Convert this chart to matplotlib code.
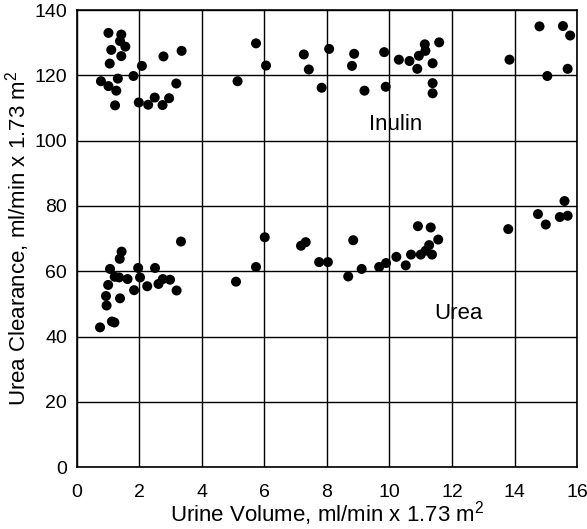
import matplotlib
matplotlib.use("Agg")
import matplotlib.pyplot as plt

plt.rcParams['font.family'] = ['Liberation Sans', 'DejaVu Sans']
plt.rcParams['mathtext.fontset'] = 'custom'
plt.rcParams['mathtext.rm'] = 'Liberation Sans'
plt.rcParams['mathtext.it'] = 'Liberation Sans'

# Inulin clearance measurements
inulin_x = [1.01, 1.42, 1.38, 1.55, 1.10, 1.42, 1.05, 2.77, 3.35, 2.08, 1.81, 1.31,
            0.77, 1.01, 1.26, 1.22, 1.98, 2.28, 2.49, 2.74, 2.95, 3.18, 5.14,
            5.73, 6.05, 7.26, 7.42, 8.07, 7.83, 8.87, 8.80, 9.20, 9.83, 9.88,
            10.30, 10.64, 10.89, 10.94, 11.13, 11.15, 11.38, 11.59, 11.38, 11.38,
            13.84, 14.80, 15.55, 15.78, 15.05, 15.70]
inulin_y = [133.0, 132.5, 130.5, 128.8, 127.8, 125.9, 123.6, 125.8, 127.5, 122.9, 119.8, 119.0,
            118.2, 116.7, 115.3, 110.8, 111.7, 111.0, 113.2, 110.9, 113.0, 117.5, 118.2,
            129.8, 123.0, 126.4, 121.8, 128.1, 116.2, 126.6, 122.9, 115.3, 127.1, 116.5,
            124.8, 124.4, 122.0, 126.0, 129.5, 127.5, 123.7, 130.1, 117.6, 114.5,
            124.8, 135.0, 135.1, 132.2, 119.8, 122.0]

# Urea clearance measurements
urea_x = [1.43, 1.37, 1.06, 1.96, 2.50, 3.33, 1.21, 1.35, 1.62, 2.02, 1.00, 1.83,
          2.25, 2.61, 2.75, 2.98, 3.19, 0.93, 0.95, 1.38, 1.12, 1.20, 0.74,
          5.09, 5.73, 6.01, 7.17, 7.32, 7.75, 8.03, 8.68, 8.84, 9.11, 9.67, 9.89,
          10.22, 10.52, 10.69, 10.91, 11.00, 11.16, 11.27, 11.36, 11.32, 11.56,
          13.80, 14.75, 15.00, 15.45, 15.70, 15.60]
urea_y = [66.0, 63.8, 60.7, 61.0, 61.0, 69.1, 58.3, 58.1, 57.6, 58.1, 55.8, 54.2,
          55.4, 56.1, 57.6, 57.4, 54.1, 52.4, 49.5, 51.7, 44.6, 44.3, 42.8,
          56.8, 61.3, 70.4, 67.8, 68.9, 62.8, 62.8, 58.4, 69.5, 60.7, 61.3, 62.5,
          64.4, 61.8, 65.1, 73.8, 65.1, 66.3, 68.0, 65.1, 73.4, 69.7,
          72.9, 77.5, 74.3, 76.6, 77.0, 81.5]

x_ticks = [0, 2, 4, 6, 8, 10, 12, 14, 16]
y_ticks = [0, 20, 40, 60, 80, 100, 120, 140]

fig = plt.figure(figsize=(5.87, 5.29), dpi=100)
ax = fig.add_axes([0.131, 0.117, 0.852, 0.864])

ax.scatter(inulin_x, inulin_y, s=52, color='black', edgecolors='none', zorder=3)
ax.scatter(urea_x, urea_y, s=52, color='black', edgecolors='none', zorder=3)

ax.set_xlim(0, 16)
ax.set_ylim(0, 140)
ax.set_xticks(x_ticks)
ax.set_yticks(y_ticks)
ax.grid(True, color='black', linewidth=1.0)
ax.set_axisbelow(True)
for sp in ax.spines.values():
    sp.set_color('black')
    sp.set_linewidth(1.2)
ax.tick_params(axis='both', length=0, labelsize=14, colors='black')
ax.tick_params(axis='x', pad=12)
ax.tick_params(axis='y', pad=7)

ax.text(10.2, 105.0, 'Inulin', fontsize=16, ha='center', va='center')
ax.text(12.2, 47.2, 'Urea', fontsize=16, ha='center', va='center')

ax.set_xlabel('Urine Volume, ml/min x 1.73 m$^2$', fontsize=16, labelpad=-1)
ax.set_ylabel('Urea Clearance, ml/min x 1.73 m$^2$', fontsize=16, labelpad=2)

fig.savefig('out.png', dpi=100)
